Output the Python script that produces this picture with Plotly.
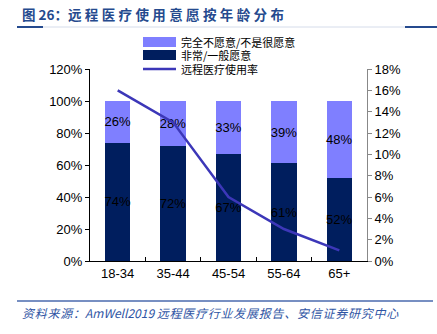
import plotly.graph_objects as go

categories = ["18-34", "35-44", "45-54", "55-64", "65+"]
willing = [74, 72, 67, 61, 52]          # 非常/一般愿意 (%)
unwilling = [26, 28, 33, 39, 48]        # 完全不愿意/不是很愿意 (%)
usage_rate = [16, 13, 6, 3, 1]          # 远程医疗使用率 (%)
left_ticks = [0, 20, 40, 60, 80, 100, 120]
right_ticks = [0, 2, 4, 6, 8, 10, 12, 14, 16, 18]

C_LIGHT = "#7F7FFF"
C_NAVY = "#001E5E"
C_LINE = "#3C37B8"
C_TITLE = "#254A8E"
FONT = "Liberation Sans, Arial, Noto Sans CJK SC, sans-serif"
CJK = "Noto Sans CJK SC, sans-serif"

W, H = 437, 334
ML, MR, MT, MB = 90, 70, 69, 73
PW, PH = W - ML - MR, H - MT - MB


def px(x):
    return (x - ML) / PW


def py(y):
    return (H - MB - y) / PH


def sp(s, ch="\u2005"):
    return ch.join(list(s))


fig = go.Figure()
fig.add_trace(go.Bar(
    x=categories, y=willing, name="非常/一般愿意",
    marker=dict(color=C_NAVY, line=dict(width=0)),
    text=[f"{v}%" for v in willing], textposition="inside", textangle=0,
    insidetextanchor="middle", constraintext="none",
    textfont=dict(color="black", size=13, family=FONT),
    showlegend=False,
))
fig.add_trace(go.Bar(
    x=categories, y=unwilling, name="完全不愿意/不是很愿意",
    marker=dict(color=C_LIGHT, line=dict(width=0)),
    text=[f"{v}%" for v in unwilling], textposition="inside", textangle=0,
    insidetextanchor="middle", constraintext="none",
    textfont=dict(color="black", size=13, family=FONT),
    showlegend=False,
))
fig.add_trace(go.Scatter(
    x=categories, y=usage_rate, name="远程医疗使用率", yaxis="y2",
    mode="lines", line=dict(color=C_LINE, width=2.5),
    showlegend=False,
))

fig.update_layout(
    width=W, height=H,
    margin=dict(l=ML, r=MR, t=MT, b=MB, pad=0),
    paper_bgcolor="white", plot_bgcolor="white",
    barmode="stack", bargap=0.54,
    uniformtext=dict(minsize=13, mode="show"),
    font=dict(family=FONT, size=13, color="black"),
    xaxis=dict(
        showline=True, linecolor="black", linewidth=1,
        ticks="inside", ticklen=4, tickcolor="black", tickson="boundaries",
        showgrid=False, tickfont=dict(size=13),
    ),
    yaxis=dict(
        range=[0, 120], tickvals=left_ticks,
        ticktext=[f"{v}%" for v in left_ticks],
        showline=True, linecolor="black", linewidth=1,
        ticks="outside", ticklen=4, tickcolor="black",
        showgrid=False, zeroline=False, tickfont=dict(size=13),
    ),
    yaxis2=dict(
        range=[0, 18], tickvals=right_ticks,
        ticktext=[f"{v}%" for v in right_ticks],
        overlaying="y", side="right",
        showline=True, linecolor="#888888", linewidth=1,
        ticks="outside", ticklen=4, tickcolor="#888888",
        showgrid=False, zeroline=False, tickfont=dict(size=13),
    ),
    showlegend=False,
)

shapes = []
annotations = []

# Title and its rule
annotations.append(dict(
    text="<b>" + "图 26：" + sp("远程医疗使用意愿按年龄分布") + "</b>",
    x=px(20), y=py(14), xref="paper", yref="paper",
    xanchor="left", yanchor="middle", showarrow=False,
    font=dict(family=CJK, size=13.5, color=C_TITLE),
))
shapes.append(dict(type="line", xref="paper", yref="paper",
                   x0=px(17), x1=px(W), y0=py(27), y1=py(27),
                   line=dict(color="#D5DCEA", width=1)))
shapes.append(dict(type="line", xref="paper", yref="paper",
                   x0=px(17), x1=px(43), y0=py(27), y1=py(27),
                   line=dict(color=C_TITLE, width=2)))
shapes.append(dict(type="line", xref="paper", yref="paper",
                   x0=px(405), x1=px(W), y0=py(27), y1=py(27),
                   line=dict(color=C_TITLE, width=2)))

# Legend drawn manually
legend_items = [
    ("完全不愿意/不是很愿意", "box", C_LIGHT, 42),
    ("非常/一般愿意", "box", C_NAVY, 55),
    ("远程医疗使用率", "line", C_LINE, 69),
]
for label, kind, color, yc in legend_items:
    if kind == "box":
        shapes.append(dict(type="rect", xref="paper", yref="paper",
                           x0=px(143), x1=px(176),
                           y0=py(yc + 5), y1=py(yc - 5),
                           line=dict(width=0), fillcolor=color))
    else:
        shapes.append(dict(type="line", xref="paper", yref="paper",
                           x0=px(143), x1=px(176),
                           y0=py(yc), y1=py(yc),
                           line=dict(color=color, width=2.5)))
    annotations.append(dict(
        text=label, x=px(179), y=py(yc), xref="paper", yref="paper",
        xanchor="left", yanchor="middle", showarrow=False,
        font=dict(family=CJK, size=11, color="black"),
    ))

# Source footer
shapes.append(dict(type="line", xref="paper", yref="paper",
                   x0=px(17), x1=px(433), y0=py(301), y1=py(301),
                   line=dict(color="#4A6AAE", width=1.5)))
annotations.append(dict(
    text="<i>" + sp("资料来源：", "\u200a") + "AmWell2019 "
         + sp("远程医疗行业发展报告、安信证券研究中心", "\u200a") + "</i>",
    x=px(20), y=py(312), xref="paper", yref="paper",
    xanchor="left", yanchor="middle", showarrow=False,
    font=dict(family=CJK, size=12, color="#2F55A4"),
))

fig.update_layout(shapes=shapes, annotations=annotations)
fig.write_html("out.html")
